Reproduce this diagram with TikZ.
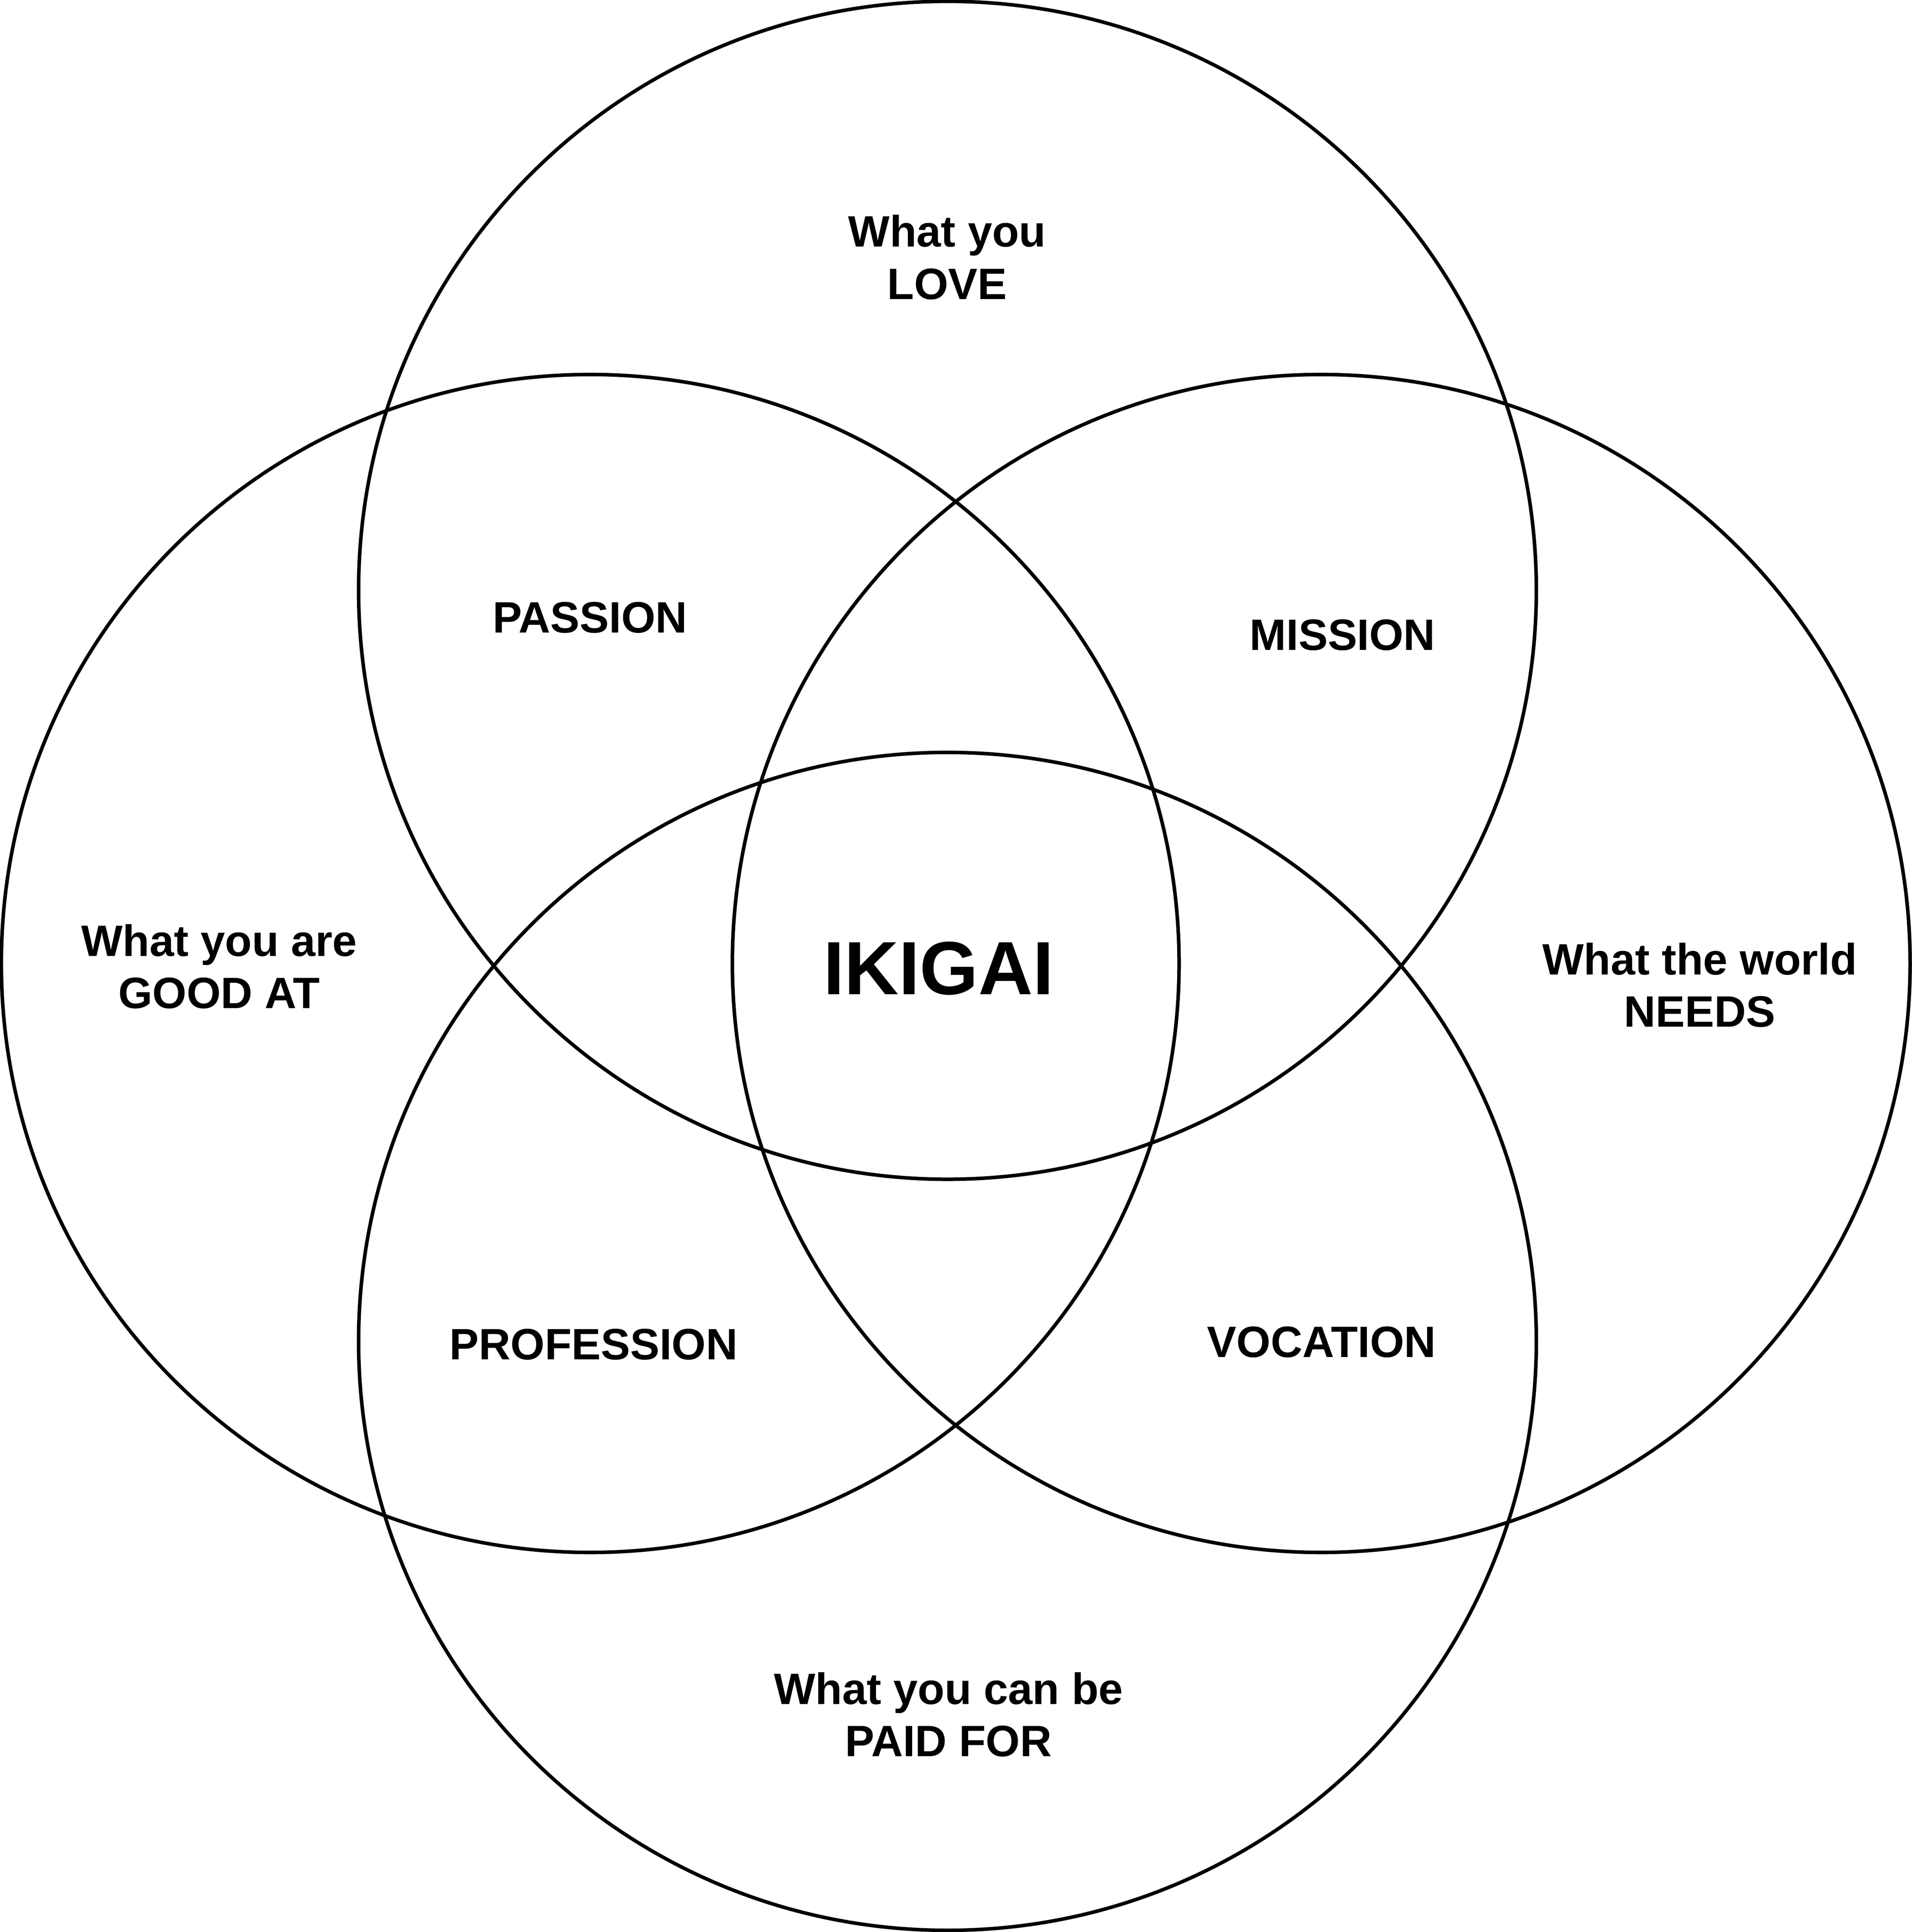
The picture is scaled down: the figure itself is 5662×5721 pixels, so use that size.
\documentclass[tikz,border=0pt]{standalone}
\usepackage{fontspec}
\setmainfont{Liberation Sans}
\begin{document}
\begin{tikzpicture}[x=0.01cm,y=-0.01cm,
  ring/.style={circle, draw=black, line width=3pt, minimum size=34.86cm, inner sep=0pt},
  lbl/.style={font=\fontsize{37}{44.1}\selectfont\bfseries, align=center, anchor=base, inner sep=0pt},
  big/.style={font=\fontsize{63.5}{76}\selectfont\bfseries, anchor=base, inner sep=0pt}]
\useasboundingbox[fill=white] (0,0) rectangle (5662,5721);
\node[ring] (cLove) at (2806,1748) {};
\node[ring] (cGood) at (1748,2853) {};
\node[ring] (cNeeds) at (3913,2853) {};
\node[ring] (cPaid) at (2806,3972) {};
\node[lbl] (tLove) at (2805,886) {What you\\LOVE};
\node[lbl] (tGood) at (649,2986) {What you are\\GOOD AT};
\node[lbl] (tNeeds) at (5034,3041) {What the world\\NEEDS};
\node[lbl] (tPaid) at (2809,5201) {What you can be\\PAID FOR};
\node[lbl] (passion) at (1747,1874) {PASSION};
\node[lbl] (mission) at (3976,1925) {MISSION};
\node[lbl] (profession) at (1758,4026) {PROFESSION};
\node[lbl] (vocation) at (3914,4019) {VOCATION};
\node[big] (ikigai) at (2780,2944) {IKIGAI};
\end{tikzpicture}
\end{document}
